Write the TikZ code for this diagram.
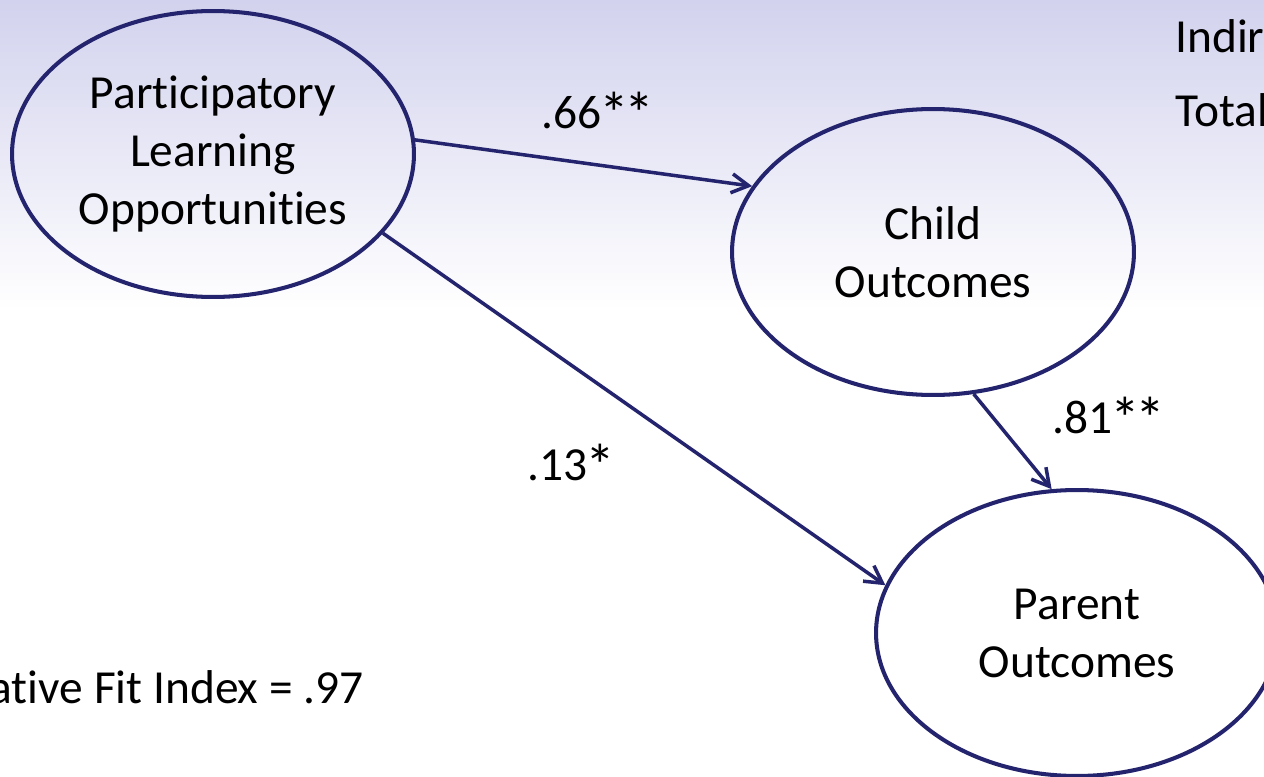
\documentclass[tikz,border=0pt]{standalone}
\usepackage{fontspec}
\setmainfont{Carlito}[Ligatures=NoCommon]
\usepackage{tikz}
\usetikzlibrary{arrows.meta,shapes.geometric}
\definecolor{semblue}{RGB}{36,36,110}
\definecolor{bgtop}{RGB}{210,210,238}
\newcommand{\sigstar}{\kern-0.05em\raisebox{-0.13em}{\fontsize{34}{33}\selectfont *}\kern-0.05em}

\begin{document}
\begin{tikzpicture}[x=0.02cm,y=-0.02cm,
    latent/.style={ellipse,draw=semblue,line width=2.3pt,minimum width=8.04cm,minimum height=5.72cm,inner sep=0pt,align=center,font=\fontsize{27}{33}\selectfont},
    coef/.style={inner sep=0pt,font=\fontsize{27}{33}\selectfont},
    link/.style={-{Straight Barb[length=3.4mm,width=3.8mm]},semblue,line width=2pt}]
    % ===== background =====
    \useasboundingbox (0,0) rectangle (1264,777);
    \fill[white] (0,0) rectangle (1264,777);
    \shade[top color=bgtop,bottom color=white] (0,0) rectangle (1264,310);
    % ===== latent variables =====
    \node[latent] (pl) at (213,154) {Participatory\\Learning\\Opportunities};
    \node[latent] (child) at (933,252) {Child\\Outcomes};
    \node[latent] (parent) at (1077,633) {Parent\\Outcomes};
    % ===== paths =====
    \draw[link] (pl.4) -- (child.160);
    \draw[link] (pl.-25) -- (parent.166);
    \draw[link] (child.-74) -- (parent.100);
    \node[coef] (c66) at (597,113) {.66\sigstar\sigstar};
    \node[coef] (c13) at (570,465) {.13\sigstar};
    \node[coef] (c81) at (1108,418) {.81\sigstar\sigstar};
    % ===== fit and effects (cut at the edges) =====
    \node[coef,anchor=base west] (indir) at (1175,53) {Indir};
    \node[coef,anchor=base west] (total) at (1175,127) {Total};
    \node[coef,anchor=base east] (cfi) at (364,703) {ative Fit Index = .97};
\end{tikzpicture}
\end{document}
